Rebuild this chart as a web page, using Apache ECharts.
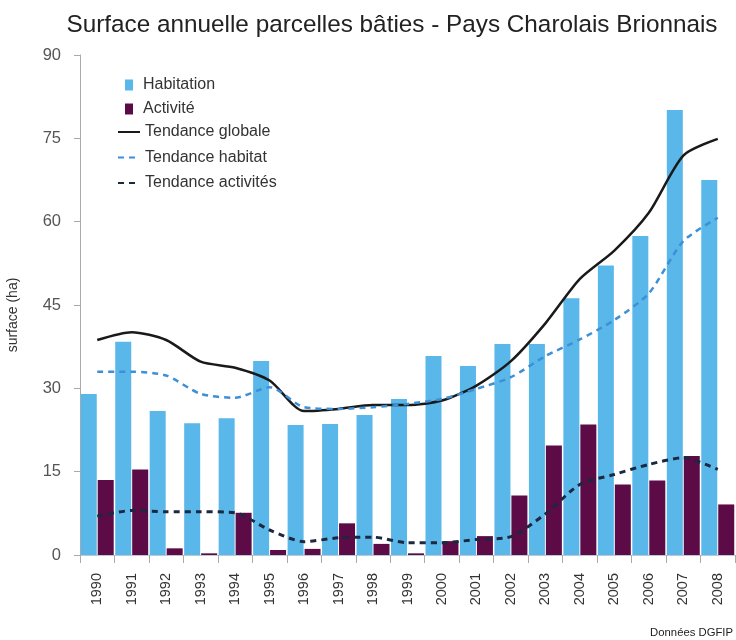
<!DOCTYPE html>
<html>
<head>
<meta charset="utf-8">
<script src="https://cdn.jsdelivr.net/npm/echarts@6/dist/echarts.min.js"></script>
<style>
  html, body { margin: 0; padding: 0; background: #fff; }
  #chartmain { width: 736px; height: 640px; }
</style>
</head>
<body>
<div id="chartmain"></div>
<script>
// données
var annees = ['1990','1991','1992','1993','1994','1995','1996','1997','1998','1999',
              '2000','2001','2002','2003','2004','2005','2006','2007','2008'];
var habitation = [29, 38.4, 25.9, 23.7, 24.6, 34.9, 23.4, 23.6, 25.2, 28.1,
                  35.8, 34.0, 38.0, 38.0, 46.2, 52.1, 57.4, 80.1, 67.5];
var activite = [13.5, 15.4, 1.2, 0.3, 7.6, 0.9, 1.1, 5.7, 2.0, 0.3,
                2.5, 3.4, 10.7, 19.7, 23.5, 12.7, 13.4, 17.8, 9.1];
var tendGlobale = [38.7, 40.1, 38.7, 34.8, 33.7, 31.4, 25.9, 26.3, 27, 27,
                   27.8, 30.5, 34.9, 41.7, 49.7, 54.8, 61.6, 71.9, 74.9];
var tendHabitat = [33, 33, 32.3, 29, 28.3, 30.2, 26.6, 26.3, 26.6, 27.2,
                   28.1, 29.9, 32, 35.8, 38.8, 42.3, 47.1, 56.5, 60.7];
var tendActivites = [7, 8, 7.8, 7.8, 7.6, 4.5, 2.4, 3.1, 3.2, 2.2,
                     2.2, 2.8, 3.3, 7.4, 12.7, 14.5, 16.3, 17.5, 15.4];
var yTicks = [0, 15, 30, 45, 60, 75, 90];

var police = '"Liberation Sans", Arial, sans-serif';
var sansSymbole = { color: 'rgba(0,0,0,0)', borderWidth: 0, opacity: 0 };

var myChart = echarts.init(document.getElementById('chartmain'));

var option = {
    backgroundColor: '#fff',
    animation: false,
    textStyle: { fontFamily: police },
    title: [{
        text: 'Surface annuelle parcelles bâties - Pays Charolais Brionnais',
        left: 387, top: 8, textAlign: 'center',
        textStyle: { fontSize: 24.3, fontWeight: 'normal', color: '#222', fontFamily: police }
    }, {
        text: 'Données DGFIP',
        right: -2, top: 622,
        textStyle: { fontSize: 11.3, fontWeight: 'normal', color: '#222', fontFamily: police }
    }],
    legend: [{
        // barres
        orient: 'vertical',
        left: 120, top: 72,
        itemWidth: 8, itemHeight: 11, itemGap: 8,
        textStyle: { fontSize: 16, color: '#333', fontFamily: police, padding: [0, 0, 0, 5] },
        data: [
            { name: 'Habitation', icon: 'rect' },
            { name: 'Activité', icon: 'rect' }
        ]
    }, {
        // tendances
        orient: 'vertical',
        left: 112, top: 119,
        itemWidth: 22, itemHeight: 12, itemGap: 9.5,
        textStyle: { fontSize: 16, color: '#333', fontFamily: police },
        data: [
            { name: 'Tendance globale', itemStyle: sansSymbole },
            { name: 'Tendance habitat', itemStyle: sansSymbole },
            { name: 'Tendance activités', itemStyle: sansSymbole }
        ]
    }],
    grid: { left: 80, right: 1, top: 55, bottom: 85, outerBoundsMode: 'none' },
    xAxis: {
        type: 'category',
        data: annees,
        axisLine: { lineStyle: { color: '#b9c9d6', width: 1 } },
        axisTick: { show: true, length: 8, lineStyle: { color: '#aaa' } },
        axisLabel: { rotate: 90, fontSize: 14.5, color: '#333', margin: 18 }
    },
    yAxis: {
        type: 'value',
        min: yTicks[0], max: yTicks[yTicks.length - 1], interval: 15,
        name: 'surface (ha)',
        nameLocation: 'middle', nameRotate: 90, nameGap: 60,
        nameTextStyle: { fontSize: 14, color: '#333', padding: [0, 20, 0, 0] },
        axisLine: { show: true, lineStyle: { color: '#aaa' } },
        axisTick: { show: true, length: 6, lineStyle: { color: '#aaa' } },
        axisLabel: { fontSize: 16.5, color: '#555', margin: 19 },
        splitLine: { show: false }
    },
    series: [{
        name: 'Habitation',
        type: 'bar',
        data: habitation,
        barWidth: 16, barGap: '6%',
        itemStyle: { color: '#5ab7ea' }
    }, {
        name: 'Activité',
        type: 'bar',
        data: activite,
        barWidth: 16, barGap: '6%',
        itemStyle: { color: '#5c0b47' }
    }, {
        name: 'Tendance globale',
        type: 'line',
        data: tendGlobale,
        smooth: 0.25, symbol: 'none',
        itemStyle: { color: '#1a1a1a' },
        lineStyle: { color: '#1a1a1a', width: 2.5 }
    }, {
        name: 'Tendance habitat',
        type: 'line',
        data: tendHabitat,
        smooth: 0.25, symbol: 'none',
        itemStyle: { color: '#3d8fd6' },
        lineStyle: { color: '#3d8fd6', width: 2.5, type: [6, 5] }
    }, {
        name: 'Tendance activités',
        type: 'line',
        data: tendActivites,
        smooth: 0.25, symbol: 'none',
        itemStyle: { color: '#1c2840' },
        lineStyle: { color: '#1c2840', width: 3, type: [6, 5] }
    }]
};

myChart.setOption(option);
</script>
</body>
</html>
